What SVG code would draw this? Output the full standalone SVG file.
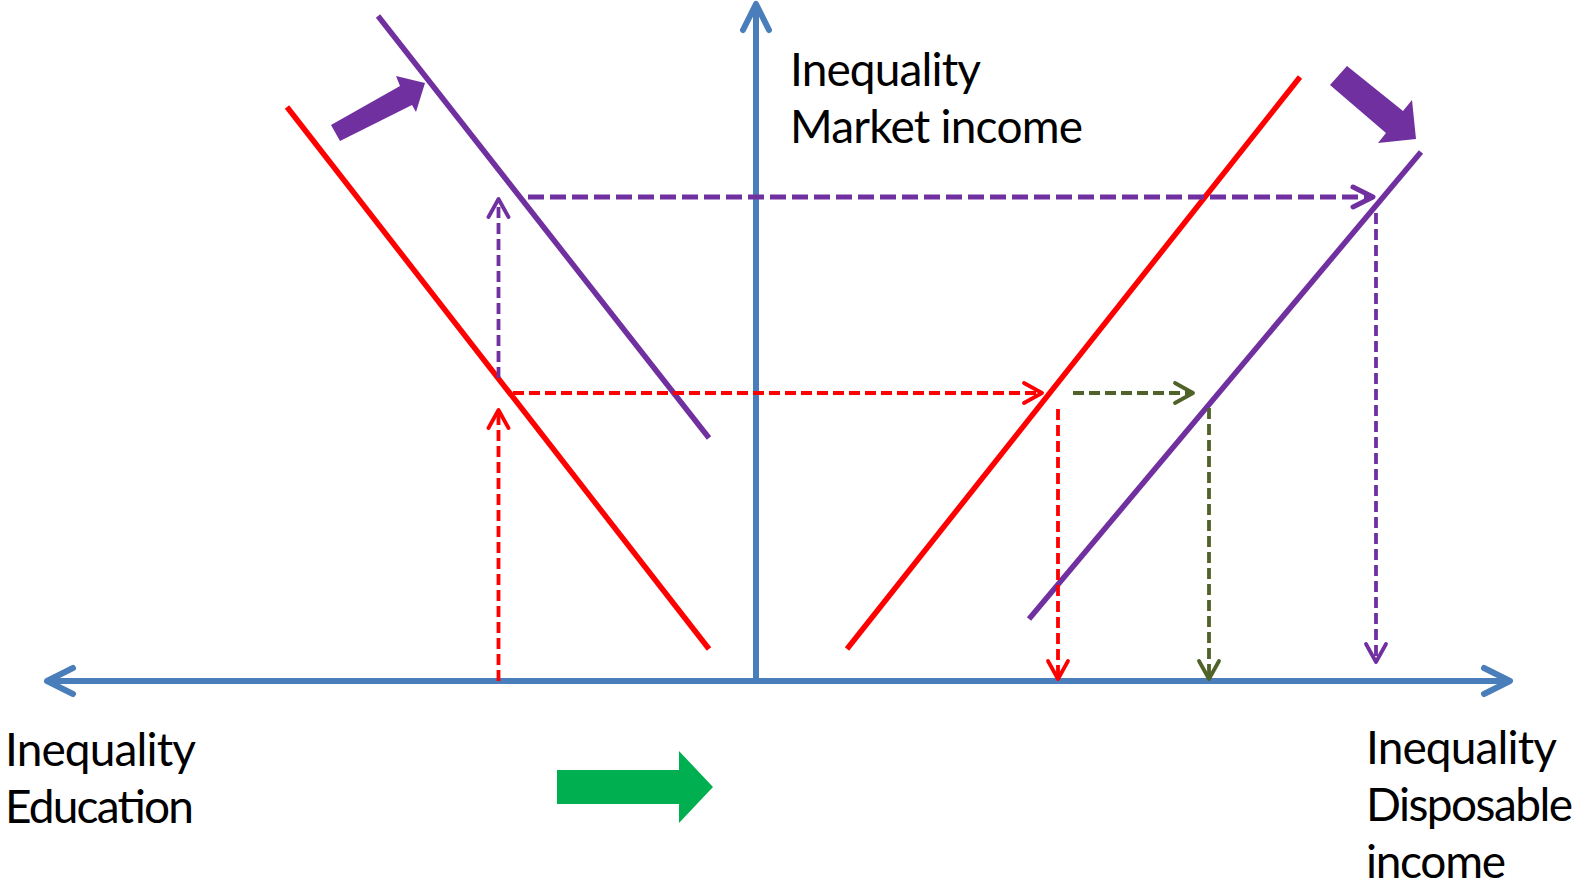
<svg xmlns="http://www.w3.org/2000/svg" width="1579" height="887" viewBox="0 0 1579 887">
  <style>
    .axis { stroke: #4A7EBB; stroke-width: 6; fill: none; }
    .solid { stroke-width: 5.5; fill: none; stroke-linecap: butt; }
    .red { stroke: #FF0000; }
    .purple { stroke: #7030A0; }
    .olive { stroke: #4F6228; }
    .dash { fill: none; stroke-width: 3.8; stroke-dasharray: 11 5; }
    .dashthick { fill: none; stroke-width: 5; stroke-dasharray: 16 6; }
    .lbl { font-family: Lato, "Liberation Sans", sans-serif; font-size: 46px; fill: #000000; }
  </style>
  <defs>
    <marker id="ahAxis" markerUnits="userSpaceOnUse" orient="auto" refX="0" refY="0" markerWidth="60" markerHeight="60" viewBox="-40 -30 60 60" overflow="visible">
      <path d="M-26,-13 L0,0 L-26,13" fill="none" stroke="#4A7EBB" stroke-width="6" stroke-linecap="round" stroke-linejoin="round"/>
    </marker>
    <marker id="ahRed" markerUnits="userSpaceOnUse" orient="auto" refX="0" refY="0" markerWidth="40" markerHeight="40" viewBox="-30 -20 40 40" overflow="visible">
      <path d="M-18,-10 L0,0 L-18,10" fill="none" stroke="#FF0000" stroke-width="3.8" stroke-linecap="round" stroke-linejoin="round"/>
    </marker>
    <marker id="ahOlive" markerUnits="userSpaceOnUse" orient="auto" refX="0" refY="0" markerWidth="40" markerHeight="40" viewBox="-30 -20 40 40" overflow="visible">
      <path d="M-18,-10 L0,0 L-18,10" fill="none" stroke="#4F6228" stroke-width="3.8" stroke-linecap="round" stroke-linejoin="round"/>
    </marker>
    <marker id="ahPurple" markerUnits="userSpaceOnUse" orient="auto" refX="0" refY="0" markerWidth="40" markerHeight="40" viewBox="-30 -20 40 40" overflow="visible">
      <path d="M-18,-10 L0,0 L-18,10" fill="none" stroke="#7030A0" stroke-width="3.8" stroke-linecap="round" stroke-linejoin="round"/>
    </marker>
    <marker id="ahPurpleThick" markerUnits="userSpaceOnUse" orient="auto" refX="0" refY="0" markerWidth="40" markerHeight="40" viewBox="-30 -20 40 40" overflow="visible">
      <path d="M-20,-10 L0,0 L-20,10" fill="none" stroke="#7030A0" stroke-width="5" stroke-linecap="round" stroke-linejoin="round"/>
    </marker>
  </defs>

  <rect x="0" y="0" width="1579" height="887" fill="#FFFFFF"/>

  <g id="axes">
    <line class="axis" x1="756" y1="681" x2="756" y2="4" marker-end="url(#ahAxis)"/>
    <line class="axis" x1="756" y1="681" x2="1510" y2="681" marker-end="url(#ahAxis)"/>
    <line class="axis" x1="756" y1="681" x2="47" y2="681" marker-end="url(#ahAxis)"/>
  </g>

  <g id="curves">
    <line id="red-left" class="solid red" x1="287" y1="107" x2="709" y2="649"/>
    <line id="purple-left" class="solid purple" x1="378" y1="16" x2="709" y2="438"/>
    <line id="red-right" class="solid red" x1="1300" y1="77" x2="847" y2="649"/>
    <line id="purple-right" class="solid purple" x1="1421" y1="152" x2="1029" y2="619"/>
  </g>

  <g id="connectors">
    <line class="dash red" x1="498.5" y1="681" x2="498.5" y2="410" marker-end="url(#ahRed)"/>
    <line class="dash purple" x1="498.5" y1="378" x2="498.5" y2="199" marker-end="url(#ahPurple)"/>
    <line class="dash red" x1="513" y1="393" x2="1042" y2="393" marker-end="url(#ahRed)"/>
    <line class="dashthick purple" x1="528" y1="197" x2="1373" y2="197" marker-end="url(#ahPurpleThick)"/>
    <line class="dash red" x1="1058" y1="409" x2="1058" y2="679" marker-end="url(#ahRed)"/>
    <line class="dash olive" x1="1073" y1="393" x2="1193" y2="393" marker-end="url(#ahOlive)"/>
    <line class="dash olive" x1="1209" y1="408" x2="1209" y2="679" marker-end="url(#ahOlive)"/>
    <line class="dash purple" x1="1376" y1="213" x2="1376" y2="662" marker-end="url(#ahPurple)"/>
  </g>

  <g id="shift-arrows">
    <polygon id="purple-shift-left" fill="#7030A0" points="331,125 400,86 396,76 425,83 416,112 412,105 340,141"/>
    <polygon id="purple-shift-right" fill="#7030A0" points="1347,66 1403,111 1412,100 1416,139 1378,143 1386,133 1330,85"/>
    <polygon id="green-arrow" fill="#00B050" points="557,770 679,770 679,751 713,787 679,823 679,804 557,804"/>
  </g>

  <g id="label-market">
    <text class="lbl" x="790" y="86" textLength="191">Inequality</text>
    <text class="lbl" x="790" y="143" textLength="293">Market income</text>
  </g>
  <g id="label-education">
    <text class="lbl" x="5" y="766" textLength="191">Inequality</text>
    <text class="lbl" x="5" y="823" textLength="189">Education</text>
  </g>
  <g id="label-disposable">
    <text class="lbl" x="1366" y="764" textLength="191">Inequality</text>
    <text class="lbl" x="1366" y="821" textLength="207">Disposable</text>
    <text class="lbl" x="1366" y="878" textLength="140">income</text>
  </g>
</svg>
